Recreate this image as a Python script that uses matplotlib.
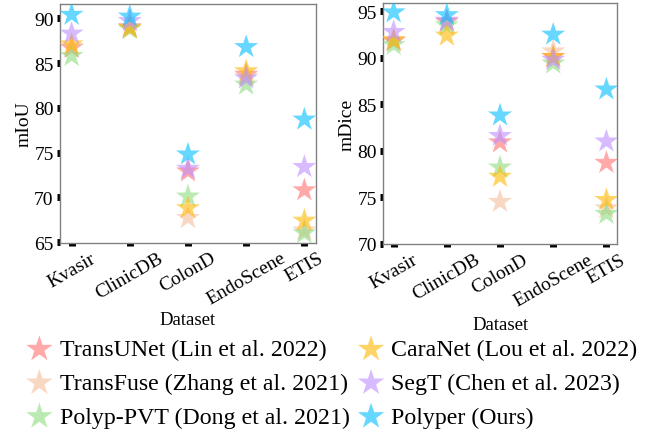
import matplotlib
matplotlib.use("Agg")
import matplotlib.pyplot as plt
import numpy as np

plt.rcParams['font.family'] = ['Liberation Serif', 'DejaVu Serif']

datasets = ["Kvasir", "ClinicDB", "ColonD", "EndoScene", "ETIS"]
methods = ["TransUNet (Lin et al. 2022)", "TransFuse (Zhang et al. 2021)",
           "Polyp-PVT (Dong et al. 2021)", "CaraNet (Lou et al. 2022)",
           "SegT (Chen et al. 2023)", "Polyper (Ours)"]

# mIoU values
miou_transunet = [86.7, 89.0, 72.9, 83.7, 70.8]
miou_transfuse = [86.8, 89.0, 67.7, 83.5, 66.3]
miou_polyppvt = [85.8, 88.8, 70.1, 82.6, 66.0]
miou_caranet = [87.1, 88.9, 68.8, 84.1, 67.4]
miou_segt = [88.3, 89.7, 73.2, 83.3, 73.4]
miou_polyper = [90.4, 90.2, 74.8, 86.8, 78.7]

# mDice values
mdice_transunet = [91.8, 93.9, 80.9, 90.1, 78.7]
mdice_transfuse = [91.9, 93.8, 74.5, 90.7, 73.8]
mdice_polyppvt = [91.4, 93.5, 78.2, 89.4, 73.2]
mdice_caranet = [91.9, 92.4, 77.2, 90.1, 74.7]
mdice_segt = [92.8, 94.0, 81.6, 89.8, 81.0]
mdice_polyper = [94.9, 94.6, 83.8, 92.5, 86.6]

colors = ["#FF7070", "#F4BE9C", "#8FDB80", "#FFB800", "#BF8FFF", "#00BFFF"]

miou = [miou_transunet, miou_transfuse, miou_polyppvt, miou_caranet, miou_segt, miou_polyper]
mdice = [mdice_transunet, mdice_transfuse, mdice_polyppvt, mdice_caranet, mdice_segt, mdice_polyper]

fig = plt.figure(figsize=(6.47, 4.31), dpi=100)
ax1 = fig.add_axes([0.0927, 0.4339, 0.3957, 0.5545])
ax2 = fig.add_axes([0.592, 0.4304, 0.3617, 0.5603])

x = np.arange(len(datasets))

def draw(ax, data, ylabel, ylim, yticks, xlabelpad):
    handles = []
    for vals, c, m in zip(data, colors, methods):
        h = ax.scatter(x, vals, marker='*', s=330, color=c, alpha=0.6,
                       edgecolors='none', label=m, zorder=3)
        handles.append(h)
    ax.set_xlim(-0.2, 4.2)
    ax.set_ylim(*ylim)
    ax.set_yticks(yticks)
    ax.set_xticks(x)
    ax.set_xticklabels(datasets, rotation=30, fontsize=14)
    ax.tick_params(axis='y', labelsize=14)
    ax.tick_params(length=2.5, width=5, color='black', pad=2)
    ax.set_ylabel(ylabel, fontsize=14, labelpad=1)
    ax.set_xlabel("Dataset", fontsize=13.5, labelpad=xlabelpad)
    for s in ax.spines.values():
        s.set_color('#808080')
        s.set_linewidth(1.0)
    return handles

handles = draw(ax1, miou, "mIoU", (64.9, 91.6), [65, 70, 75, 80, 85, 90], 2)
draw(ax2, mdice, "mDice", (69.9, 95.9), [70, 75, 80, 85, 90, 95], 5)

fig.legend(handles=handles, labels=methods, loc='lower center',
           bbox_to_anchor=(0.512, -0.028), ncol=2, frameon=False, fontsize=17.2,
           handletextpad=0.25, columnspacing=0.3, labelspacing=0.5,
           borderaxespad=0.2, markerscale=1.1, handlelength=1.2)

fig.savefig("out.png", dpi=100)
